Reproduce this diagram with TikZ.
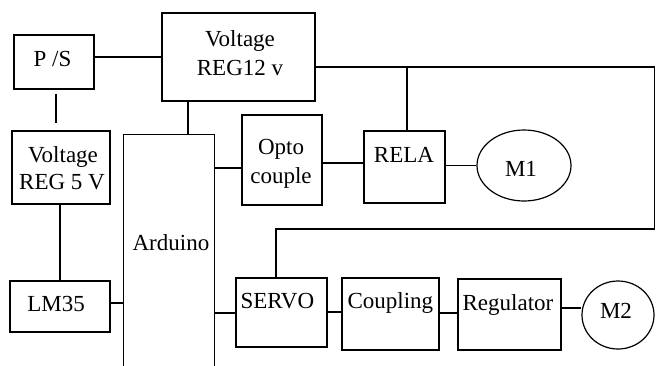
\documentclass[tikz,border=0pt]{standalone}
\usepackage{fontspec}
\setmainfont{Liberation Serif}
\newfontfamily\tnrfont{Liberation Serif}
\usetikzlibrary{shapes.geometric}
\begin{document}
\begin{tikzpicture}[x=1pt,y=-1pt,line width=1.2pt,line join=miter,
  box/.style 2 args={draw, rectangle, inner sep=0pt, minimum width=#1, minimum height=#2},
  oval/.style 2 args={draw, ellipse, inner sep=0pt, minimum width=#1, minimum height=#2},
  txt/.style={inner sep=0pt, anchor=base, font=\tnrfont\fontsize{23}{29}\selectfont},
  txtl/.style={txt, anchor=base west}]
\useasboundingbox (0,0) rectangle (656,365);

% boxes
\node[box={80pt}{54pt}]  (ps)    at (54,62) {};
\node[box={153pt}{88pt}] (v12)   at (238.5,57) {};
\node[box={98pt}{73pt}]  (v5)    at (61,167.5) {};
\node[box={90pt}{232pt}, draw=none] (ard) at (169,251) {};
\node[box={80pt}{90pt}]  (opto)  at (282,160) {};
\node[box={81pt}{72pt}]  (rela)  at (404.5,167) {};
\node[oval={94pt}{71pt}] (m1)    at (524,165.5) {};
\node[box={100pt}{51pt}] (lm35)  at (60,306.5) {};
\node[box={91pt}{69pt}]  (servo) at (281.5,312.5) {};
\node[box={97pt}{72pt}]  (coup)  at (390.5,314) {};
\node[box={103pt}{71pt}] (reg)   at (509.5,314.5) {};
\node[oval={72pt}{68pt}] (m2)    at (618,315) {};

% open Arduino box
\draw (ard.south west) -- (ard.north west) -- (ard.north east) -- (ard.south east);

% texts
\node[txt] (tps)   at (52.5,66) {P /S};
\node[txt] (tv12a) at (240,46) {Voltage};
\node[txt] (tv12b) at (240,75) {REG12 v};
\node[txt] (tv5a)  at (63,162) {Voltage};
\node[txt] (tv5b)  at (62,189) {REG 5 V};
\node[txt] (topa)  at (281,154) {Opto};
\node[txt] (topb)  at (281,183) {couple};
\node[txt] (trela) at (404,162) {RELA};
\node[txt] (tm1)   at (521,176) {M1};
\node[txtl] (tard) at (132,250) {Arduino};
\node[txt] (tlm)   at (56,311) {LM35};
\node[txtl] (tsrv) at (240,308) {SERVO};
\node[txtl] (tcp)  at (347,308) {Coupling};
\node[txtl] (treg) at (462,310) {Regulator};
\node[txt] (tm2)   at (616,318) {M2};

% bus coordinates
\coordinate (busL) at (v12.east |- 0,67);
\coordinate (busR) at (654.5,67);
\coordinate (busD) at (654.5,229);
\coordinate (busS) at (276,229);

% connectors
\draw (ps.east |- v12.west) -- (v12.west);
\draw[shorten <=4pt, shorten >=7pt] (ps.south -| 56,0) -- (v5.north -| 56,0);
\draw (v12.south -| 188,0) -- (ard.north -| 188,0);
\draw (ard.east |- 0,168) -- (opto.west |- 0,168);
\draw (opto.east |- 0,163) -- (rela.west |- 0,163);
\draw (busL) -- (busR) -- (busD) -- (busS) -- (servo.north -| busS);
\draw (rela.north -| 407,0) -- (407,67);
\draw (rela.east |- m1.west) -- (m1.west);
\draw (v5.south -| 60,0) -- (lm35.north -| 60,0);
\draw (lm35.east |- 0,303) -- (ard.west |- 0,303);
\draw (ard.east |- 0,313) -- (servo.west |- 0,313);
\draw (servo.east |- 0,312) -- (coup.west |- 0,312);
\draw (coup.east |- 0,313) -- (reg.west |- 0,313);
\draw (reg.east |- 0,308) -- (m2.west |- 0,308);
\end{tikzpicture}
\end{document}
